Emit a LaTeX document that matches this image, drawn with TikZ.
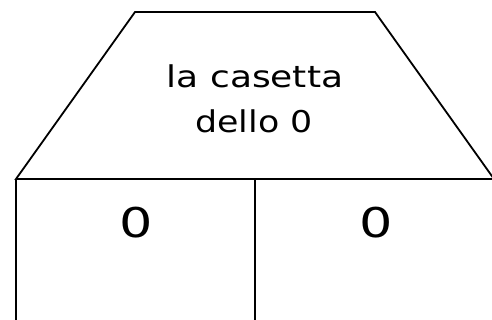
\documentclass[tikz,border=0pt]{standalone}
\usepackage{fontspec}
\usepackage{graphicx}
\setmainfont{DejaVu Sans}
\newfontfamily\casafont{DejaVu Sans}

\newcommand{\largo}[2]{\scalebox{#1}[1]{#2}}

\tikzset{
    muro/.style={draw=black, line width=1.8pt, line join=miter},
    scritta/.style={inner sep=0pt, anchor=base, font=\casafont\fontsize{30}{36}\selectfont},
    cifra/.style={inner sep=0pt, anchor=base, font=\casafont\fontsize{41}{46}\selectfont},
}

\begin{document}
\begin{tikzpicture}[x=1pt, y=-1pt]
    \useasboundingbox (0,0) rectangle (492,320);
    \clip (0,0) rectangle (492,320);

    % tetto
    \coordinate (tettoSx) at (135,12);
    \coordinate (tettoDx) at (375,12);
    \coordinate (grondaSx) at (16,179);
    \coordinate (grondaDx) at (494,179);

    % muri
    \coordinate (baseSx) at (16,330);
    \coordinate (baseDx) at (494,330);
    \coordinate (muroMezzo) at (255,179);
    \coordinate (baseMezzo) at (255,330);

    \draw[muro] (grondaSx) -- (tettoSx) -- (tettoDx) -- (grondaDx) -- cycle;
    \draw[muro] (grondaSx) -- (baseSx) -- (baseDx) -- (grondaDx);
    \draw[muro] (muroMezzo) -- (baseMezzo);

    \node[scritta] (nome1) at (255,88) {\largo{1.2}{la casetta}};
    \node[scritta] (nome2) at (254,133) {\largo{1.16}{dello 0}};

    \node[cifra] (cifraSx) at (136,237) {\largo{1.28}{0}};
    \node[cifra] (cifraDx) at (376,237) {\largo{1.28}{0}};
\end{tikzpicture}
\end{document}
